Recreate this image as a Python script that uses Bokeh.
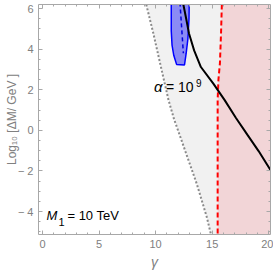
import numpy as np
from bokeh.plotting import figure
from bokeh.models import Range1d, FixedTicker, LinearAxis, Label
from bokeh.embed import file_html
from bokeh.resources import INLINE

# ---- data ----
X_MIN, X_MAX = -0.35, 20.15
Y_MIN, Y_MAX = -5.13, 6.2

x_ticks = [0, 5, 10, 15, 20]
x_tick_labels = ["0", "5", "10", "15", "20"]
y_ticks = [-4, -2, 0, 2, 4, 6]
y_tick_labels = ["\u2212 4", "\u2212 2", "0", "2", "4", "6"]

# gray dotted boundary (lower edge of gray region)
dot_gamma = [9.17, 9.8, 10.47, 11.14, 11.6, 12.62, 13.65, 14.53, 14.89]
dot_logdm = [6.2, 4.77, 3.12, 1.49, 0.6, -1.02, -2.66, -4.29, -5.13]

# red dashed boundary
red_gamma = [15.85, 15.78, 15.68, 15.55, 15.48, 15.48]
red_logdm = [6.2, 4.8, 3.3, 2.5, 1.5, -5.13]

# black curve alpha = 1e9
alpha_gamma = [12.45, 12.7, 12.95, 13.4, 14.0, 15.1, 16.1, 17.1, 18.1, 19.1, 20.3]
alpha_logdm = [6.2, 5.5, 4.77, 3.94, 3.12, 2.3, 1.49, 0.61, -0.21, -1.02, -2.09]

# blue region
blue_gamma = [11.38, 11.38, 11.45, 11.6, 11.85, 12.55, 12.7, 12.85, 12.95, 12.97]
blue_logdm = [6.3, 4.9, 4.2, 3.7, 3.25, 3.22, 3.8, 4.5, 5.5, 6.3]

# blue dashed line inside blue region
bdash_gamma = [12.15, 12.45]
bdash_logdm = [6.3, 3.8]

FONT = "Liberation Sans"
GRAY = "#808080"
AXIS = "#a8a8a8"

p = figure(width=273, height=272,
           x_range=Range1d(X_MIN, X_MAX), y_range=Range1d(Y_MIN, Y_MAX),
           output_backend="svg", toolbar_location=None,
           min_border_left=38, min_border_right=3, min_border_top=4, min_border_bottom=37)
p.outline_line_color = None
p.xgrid.visible = False
p.ygrid.visible = False
p.background_fill_color = "white"
p.border_fill_color = "white"

xt = FixedTicker(ticks=x_ticks, minor_ticks=list(np.arange(0, 21, 1.0)))
yt = FixedTicker(ticks=y_ticks, minor_ticks=list(np.arange(-5, 6.01, 0.5)))

def style_axis(ax, labels=True):
    ax.axis_line_color = AXIS
    ax.major_tick_line_color = AXIS
    ax.minor_tick_line_color = AXIS
    ax.major_tick_in = 4
    ax.major_tick_out = 0
    ax.minor_tick_in = 2
    ax.minor_tick_out = 0
    ax.major_label_text_font = FONT
    if labels:
        ax.major_label_text_color = GRAY
        ax.major_label_text_font_size = "11px"
        ax.major_label_standoff = 5
    else:
        ax.major_label_text_color = None
        ax.major_label_text_font_size = "1px"
        ax.major_label_standoff = 0
    ax.axis_label_text_font = FONT
    ax.axis_label_text_color = GRAY

xa = p.xaxis[0]
xa.ticker = xt
xa.major_label_overrides = {t: l for t, l in zip(x_ticks, x_tick_labels)}
style_axis(xa)
xa.axis_label = "\u03b3"
xa.axis_label_text_font_style = "italic"
xa.axis_label_text_font_size = "14px"
xa.axis_label_standoff = 3

ya = p.yaxis[0]
ya.ticker = yt
ya.major_label_overrides = {t: l for t, l in zip(y_ticks, y_tick_labels)}
style_axis(ya)
ya.axis_label = "Log\u2081\u2080 [\u0394M/ GeV ]"
ya.axis_label_text_font_style = "normal"
ya.axis_label_text_font_size = "12px"
ya.axis_label_standoff = -4

top = LinearAxis(ticker=xt)
style_axis(top, labels=False)
p.add_layout(top, "above")
right = LinearAxis(ticker=yt)
style_axis(right, labels=False)
p.add_layout(right, "right")

# gray region
p.patch(dot_gamma + [X_MAX + 1, X_MAX + 1], dot_logdm + [Y_MIN, Y_MAX],
        fill_color="#f1f1f1", line_color=None)
# pink region
p.patch(red_gamma + [X_MAX + 1, X_MAX + 1], red_logdm + [Y_MIN, Y_MAX],
        fill_color="#f2d5d7", line_color=None)
p.line(red_gamma, red_logdm, line_color="#ff0000", line_width=2, line_dash="5 3")
p.line(dot_gamma, dot_logdm, line_color="#8a8a8a", line_width=2, line_dash="2 2")

# blue region
p.patch(blue_gamma, blue_logdm, fill_color="#8a8af5", line_color="#0000ff", line_width=1.5)
p.line(bdash_gamma, bdash_logdm, line_color="#0000dd", line_width=1.5, line_dash="4 3")

# black alpha curve
p.line(alpha_gamma, alpha_logdm, line_color="black", line_width=2)

# labels
ax_, ay_ = 9.85, 1.74
p.add_layout(Label(x=ax_, y=ay_, text="\u03b1", text_font=FONT, text_font_style="italic",
                   text_font_size="15px", text_color="black"))
p.add_layout(Label(x=ax_, y=ay_, x_offset=12, text="= 10", text_font=FONT,
                   text_font_size="14px", text_color="black"))
p.add_layout(Label(x=ax_, y=ay_, x_offset=42, y_offset=8, text="9", text_font=FONT,
                   text_font_size="10px", text_color="black"))

mx, my = 0.35, -4.54
p.add_layout(Label(x=mx, y=my, text="M", text_font=FONT, text_font_style="italic",
                   text_font_size="13px", text_color="black"))
p.add_layout(Label(x=mx, y=my, x_offset=12, y_offset=-3, text="1", text_font=FONT,
                   text_font_size="11px", text_color="black"))
p.add_layout(Label(x=mx, y=my, x_offset=21, text="= 10 TeV", text_font=FONT,
                   text_font_size="13px", text_color="black"))

open("out.html", "w").write(file_html(p, INLINE))
